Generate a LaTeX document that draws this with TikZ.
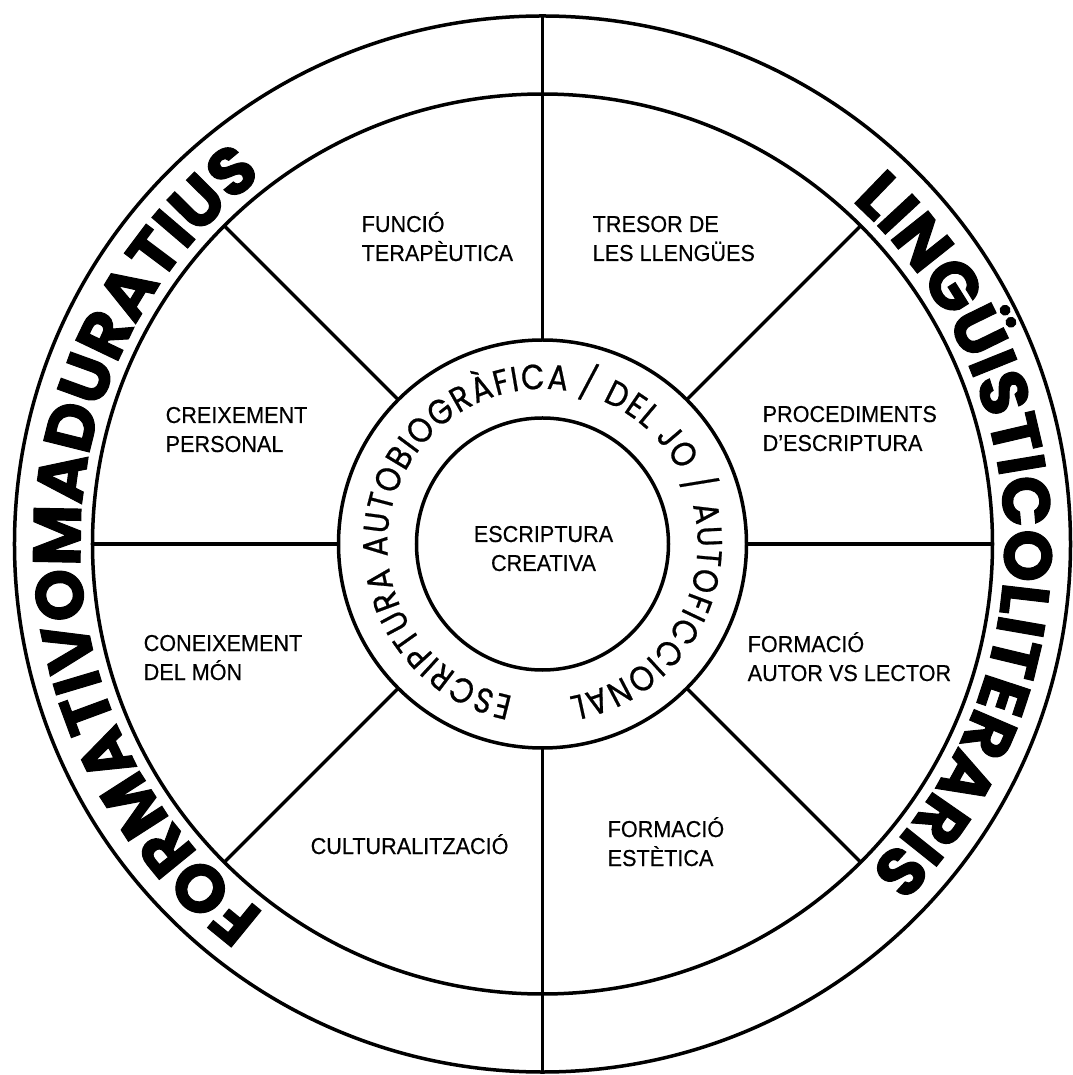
\documentclass[tikz,border=0pt]{standalone}
\usepackage{fontspec}
\usetikzlibrary{decorations.text}
\newfontfamily\lblfont[FakeStretch=0.94,FakeBold=0.4]{Liberation Sans}
\newfontfamily\ringfont[FakeStretch=0.87,FakeBold=0.6]{Poppins}
\newfontfamily\bigfont[BoldFeatures={FakeBold=1.5}]{Poppins}
\tikzset{
  lbl/.style={font=\lblfont\fontsize{23}{29}\selectfont, align=left, anchor=base west, inner sep=0pt},
  ring/.style={line width=3.5pt},
  spoke/.style={line width=3.5pt}
}
\begin{document}
\begin{tikzpicture}[x=1pt,y=1pt]
\useasboundingbox (-542.5,-531) rectangle (529.5,544);
\fill[white] (-542.5,-531) rectangle (529.5,544);
% circles
\draw[ring] (0,0) circle[radius=528];
\draw[ring] (0,0) circle[radius=450];
\draw[ring] (0,0) circle[radius=204];
\draw[ring] (0,0) circle[radius=126];
% spokes
\foreach \a in {0,45,135,180,225,315}{\draw[spoke] (\a:204) -- (\a:450);}
\draw[spoke] (90:204) -- (90:528);
\draw[spoke] (270:204) -- (270:528);
% labels (anchor = baseline of last line)
\node[lbl] (funcio) at (-181,283) {FUNCIÓ\\TERAPÈUTICA};
\node[lbl] (tresor) at (50,283) {TRESOR DE\\LES LLENGÜES};
\node[lbl] (creix) at (-377,92) {CREIXEMENT\\PERSONAL};
\node[lbl] (coneix) at (-399,-136) {CONEIXEMENT\\DEL MÓN};
\node[lbl] (proc) at (220,93) {PROCEDIMENTS\\D’ESCRIPTURA};
\node[lbl] (autor) at (205,-137) {FORMACIÓ\\AUTOR VS LECTOR};
\node[lbl] (cult) at (-232,-310) {CULTURALITZACIÓ};
\node[lbl] (estet) at (65,-322) {FORMACIÓ\\ESTÈTICA};
\node[lbl, align=center, anchor=base] (centre) at (1,-27) {ESCRIPTURA\\CREATIVA};
% ring text
\path[decorate, decoration={text along path, text align=fit to path,
  text={|\ringfont\fontsize{35}{35}\selectfont|ESCRIPTURA AUTOBIOGRÀFICA / DEL JO / AUTOFICCIONAL}}]
  (259:155) arc[start angle=259, end angle=-80, radius=155];
% outer bold texts
\path[decorate, decoration={text along path, text align=fit to path,
  text={|\bigfont\bfseries\fontsize{67}{67}\selectfont|FORMATIVOMADURATIUS}}]
  (233:462) arc[start angle=233, end angle=128, radius=462];
\path[decorate, decoration={text along path, text align=fit to path,
  text={|\bigfont\bfseries\fontsize{67}{67}\selectfont|LINGÜISTICOLITERARIS}}]
  (48:462) arc[start angle=48, end angle=-43, radius=462];
\end{tikzpicture}
\end{document}
